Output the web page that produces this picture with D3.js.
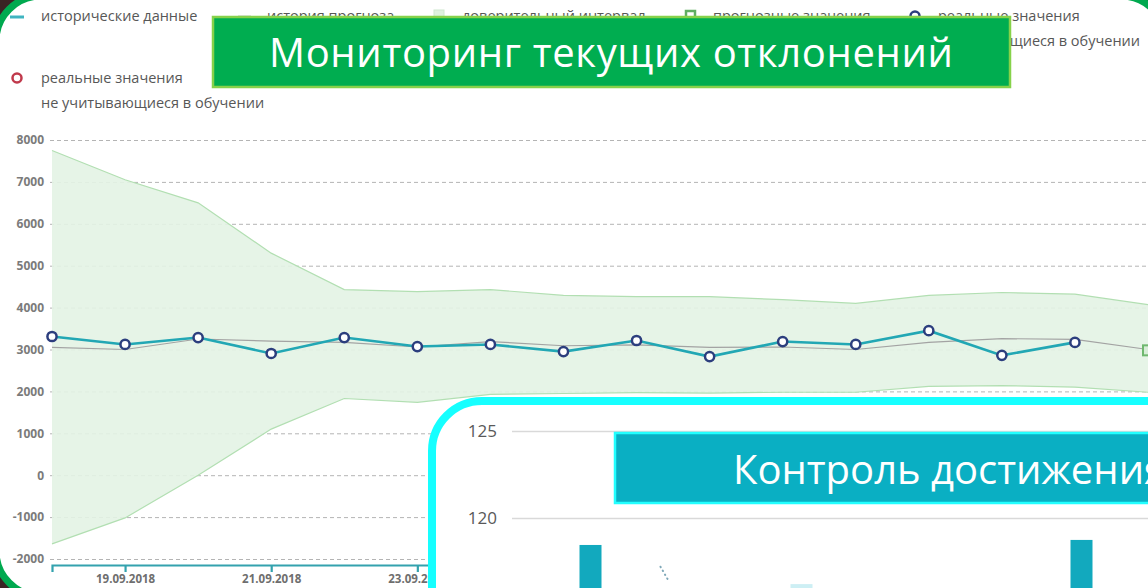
<!DOCTYPE html>
<html>
<head>
<meta charset="utf-8">
<script src="https://cdn.jsdelivr.net/npm/d3@7"></script>
<style>
    body { margin: 0; background: #3a2424; }
    svg { display: block; font-family: "Open Sans", sans-serif; }
</style>
</head>
<body>
<div id="maincontent"></div>
<script>
// ---- данные основного графика ----
const dates = ["18.09.2018", "19.09.2018", "20.09.2018", "21.09.2018", "22.09.2018",
    "23.09.2018", "24.09.2018", "25.09.2018", "26.09.2018", "27.09.2018",
    "28.09.2018", "29.09.2018", "30.09.2018", "01.10.2018", "02.10.2018", "03.10.2018"];
const realValues = [3310, 3120, 3285, 2905, 3285, 3070, 3120, 2950, 3215, 2830,
    3190, 3120, 3450, 2860, 3170];
const forecastHistory = [3050, 3000, 3250, 3200, 3170, 3060, 3190, 3090, 3110, 3050,
    3060, 3000, 3170, 3260, 3240, 3000];
const ciUpper = [7750, 7050, 6500, 5300, 4430, 4380, 4430, 4290, 4260, 4260,
    4190, 4100, 4290, 4360, 4320, 4070];
const ciLower = [-1640, -1020, 0, 1100, 1830, 1740, 1930, 1950, 1970, 1960,
    1980, 1980, 2120, 2140, 2100, 1980];
const forecastValues = [2980];
const yTicks = [-2000, -1000, 0, 1000, 2000, 3000, 4000, 5000, 6000, 7000, 8000];
const xTickLabels = ["19.09.2018", "21.09.2018", "23.09.2018", "25.09.2018",
    "27.09.2018", "29.09.2018", "01.10.2018"];

// ---- данные вставки "Контроль достижения" ----
const kpiGroups = ["Q1", "Q2"];
const kpiFact = [118.45, 118.74];
const kpiPlan = [116.2, 116.0];
const kpiTrend = [117.2, 116.4];   // точечный пунктир справа от первого столбца
const kpiTicks = [120, 125];

const width = 1148, height = 588;
const parse = d3.timeParse("%d.%m.%Y");
const fmt = d3.timeFormat("%d.%m.%Y");

const svg = d3.select("#maincontent").append("svg")
    .attr("width", width)
    .attr("height", height);

// рамка скриншота
svg.append("rect")
    .attr("width", width).attr("height", height)
    .attr("fill", "#3a2424");
svg.append("rect")
    .attr("x", -4).attr("y", -4)
    .attr("width", 1170).attr("height", 600)
    .attr("rx", 45).attr("ry", 45)
    .attr("fill", "#ffffff")
    .attr("stroke", "#00a94f")
    .attr("stroke-width", 7);

const x = d3.scaleTime()
    .domain([parse(dates[0]), parse(dates[dates.length - 1])])
    .range([52, 1148]);
const y = d3.scaleLinear()
    .domain([-2000, 8000])
    .range([559, 140]);

// ---- легенда ----
const legend = svg.append("g").attr("id", "legend")
    .style("font-size", "14.5px").attr("fill", "#575757");

legend.append("line").attr("x1", 10).attr("x2", 24).attr("y1", 17).attr("y2", 17)
    .attr("stroke", "#3fb4c0").attr("stroke-width", 3);
legend.append("text").attr("x", 41).attr("y", 21).text("исторические данные");

legend.append("line").attr("x1", 238).attr("x2", 251).attr("y1", 17).attr("y2", 17)
    .attr("stroke", "#c8c8c8").attr("stroke-width", 3);
legend.append("text").attr("x", 267).attr("y", 21).text("история прогноза");

legend.append("rect").attr("x", 434).attr("y", 10).attr("width", 10).attr("height", 10)
    .attr("fill", "#dff1df").attr("stroke", "#cfe8cf");
legend.append("text").attr("x", 462).attr("y", 21).text("доверительный интервал");

legend.append("rect").attr("x", 686).attr("y", 11).attr("width", 9).attr("height", 9)
    .attr("fill", "#ffffff").attr("stroke", "#5fae62").attr("stroke-width", 2.5);
legend.append("text").attr("x", 713).attr("y", 21).text("прогнозные значения");

legend.append("circle").attr("cx", 915).attr("cy", 16).attr("r", 4.5)
    .attr("fill", "#ffffff").attr("stroke", "#2c3e7e").attr("stroke-width", 2.5);
legend.append("text").attr("x", 938).attr("y", 21).text("реальные значения");
legend.append("text").attr("x", 938).attr("y", 46).text("учитывающиеся в обучении");

legend.append("circle").attr("cx", 17).attr("cy", 78).attr("r", 4.5)
    .attr("fill", "#ffffff").attr("stroke", "#c0394b").attr("stroke-width", 2.5);
legend.append("text").attr("x", 41).attr("y", 83).text("реальные значения");
legend.append("text").attr("x", 41).attr("y", 108).text("не учитывающиеся в обучении");

// ---- сетка и ось Y ----
const yAxis = svg.append("g")
    .attr("transform", "translate(50,0)")
    .call(d3.axisLeft(y).tickValues(yTicks).tickFormat(d => String(d))
        .tickSize(-1100).tickPadding(6));
yAxis.select(".domain").remove();
yAxis.selectAll(".tick line")
    .attr("stroke", "#b4b4b4")
    .attr("stroke-dasharray", "4,3");
yAxis.selectAll(".tick text")
    .attr("fill", "#7b7b7b")
    .style("font-size", "12px")
    .style("font-weight", "bold")
    .style("font-family", "'Open Sans', sans-serif");

// ---- доверительный интервал ----
const rows = dates.map((d, i) => ({
    date: parse(d), up: ciUpper[i], lo: ciLower[i], hist: forecastHistory[i], real: realValues[i]
}));

svg.append("path")
    .datum(rows)
    .attr("fill", "#e3f3e4")
    .attr("fill-opacity", 0.9)
    .attr("d", d3.area().x(d => x(d.date)).y0(d => y(d.lo)).y1(d => y(d.up)));
svg.append("path").datum(rows)
    .attr("fill", "none").attr("stroke", "#b2dfb2").attr("stroke-width", 1.2)
    .attr("d", d3.line().x(d => x(d.date)).y(d => y(d.up)));
svg.append("path").datum(rows)
    .attr("fill", "none").attr("stroke", "#b2dfb2").attr("stroke-width", 1.2)
    .attr("d", d3.line().x(d => x(d.date)).y(d => y(d.lo)));

// ---- история прогноза ----
svg.append("path").datum(rows)
    .attr("fill", "none").attr("stroke", "#a3a3a3").attr("stroke-width", 1.2)
    .attr("d", d3.line().x(d => x(d.date)).y(d => y(d.hist)));

// ---- реальные значения ----
const realRows = rows.filter(d => d.real !== undefined);
svg.append("path").datum(realRows)
    .attr("fill", "none").attr("stroke", "#22a7b4").attr("stroke-width", 2.6)
    .attr("d", d3.line().x(d => x(d.date)).y(d => y(d.real)));
svg.selectAll(".real")
    .data(realRows)
    .enter().append("circle")
    .attr("class", "real")
    .attr("cx", d => x(d.date))
    .attr("cy", d => y(d.real))
    .attr("r", 4.6)
    .attr("fill", "#ffffff")
    .attr("stroke", "#2c3e7e")
    .attr("stroke-width", 2.5);

// прогнозное значение
svg.selectAll(".forecast")
    .data(forecastValues)
    .enter().append("rect")
    .attr("class", "forecast")
    .attr("x", x(parse(dates[dates.length - 1])) - 5)
    .attr("y", d => y(d) - 5)
    .attr("width", 10).attr("height", 10)
    .attr("fill", "#d7edd7").attr("stroke", "#6fb86f").attr("stroke-width", 2);

// ---- ось X ----
const xAxis = svg.append("g")
    .attr("transform", "translate(0,565)")
    .call(d3.axisBottom(x)
        .tickValues(xTickLabels.map(parse))
        .tickFormat(fmt)
        .tickSize(7).tickSizeOuter(7).tickPadding(3));
xAxis.selectAll(".domain, .tick line")
    .attr("stroke", "#33a2ae").attr("stroke-width", 2.2);
xAxis.selectAll(".tick text")
    .attr("fill", "#6e6e6e")
    .style("font-size", "11.5px")
    .style("font-weight", "bold")
    .style("font-family", "'Open Sans', sans-serif");

// ---- заголовок 1 ----
svg.append("rect")
    .attr("x", 213).attr("y", 17).attr("width", 797).attr("height", 70)
    .attr("fill", "#00ad50").attr("stroke", "#86d24a").attr("stroke-width", 2.5);
svg.append("text")
    .attr("x", 611).attr("y", 67)
    .attr("text-anchor", "middle")
    .attr("fill", "#ffffff")
    .attr("textLength", 684)
    .style("font-size", "40px")
    .text("Мониторинг текущих отклонений");

// ---- вставка "Контроль достижения" ----
const inset = svg.append("g").attr("id", "inset");
inset.append("rect")
    .attr("x", 432).attr("y", 401).attr("width", 800).attr("height", 300)
    .attr("rx", 50).attr("ry", 50)
    .attr("fill", "#ffffff")
    .attr("stroke", "#16ffff").attr("stroke-width", 8);

const ky = d3.scaleLinear().domain([120, 125]).range([518, 431]);
const kx = d3.scaleBand().domain(kpiGroups).range([345, 1327]).paddingInner(0);

const kAxis = inset.append("g")
    .attr("transform", "translate(512,0)")
    .call(d3.axisLeft(ky).tickValues(kpiTicks).tickFormat(d => String(d))
        .tickSize(-640).tickPadding(15));
kAxis.select(".domain").remove();
kAxis.selectAll(".tick line").attr("stroke", "#d9d9d9").attr("stroke-width", 1.6);
kAxis.selectAll(".tick text")
    .attr("fill", "#595959")
    .style("font-size", "17px")
    .style("font-family", "'Open Sans', sans-serif");

inset.selectAll(".plan")
    .data(kpiGroups)
    .enter().append("rect")
    .attr("class", "plan")
    .attr("x", d => kx(d) + kx.bandwidth() / 2 + 200)
    .attr("y", (d, i) => ky(kpiPlan[i]))
    .attr("width", 22)
    .attr("height", (d, i) => 600 - ky(kpiPlan[i]))
    .attr("fill", "#cdeff4");

inset.selectAll(".fact")
    .data(kpiGroups)
    .enter().append("rect")
    .attr("class", "fact")
    .attr("x", d => kx(d) + kx.bandwidth() / 2 - 11)
    .attr("y", (d, i) => ky(kpiFact[i]))
    .attr("width", 22)
    .attr("height", (d, i) => 600 - ky(kpiFact[i]))
    .attr("fill", "#12a9be");

// точечный пунктир у первой группы
inset.append("line")
    .attr("x1", kx(kpiGroups[0]) + kx.bandwidth() / 2 + 70)
    .attr("x2", kx(kpiGroups[0]) + kx.bandwidth() / 2 + 78)
    .attr("y1", ky(kpiTrend[0]))
    .attr("y2", ky(kpiTrend[1]))
    .attr("stroke", "#7fa8b8")
    .attr("stroke-width", 2)
    .attr("stroke-linecap", "round")
    .attr("stroke-dasharray", "0.5,4");

// заголовок 2
inset.append("rect")
    .attr("x", 615).attr("y", 433).attr("width", 580).attr("height", 70)
    .attr("fill", "#0aafc3").attr("stroke", "#22ffff").attr("stroke-width", 2.5);
inset.append("text")
    .attr("x", 733).attr("y", 484)
    .attr("fill", "#ffffff")
    .style("font-size", "40px")
    .text("Контроль достижения целей");
</script>
</body>
</html>
